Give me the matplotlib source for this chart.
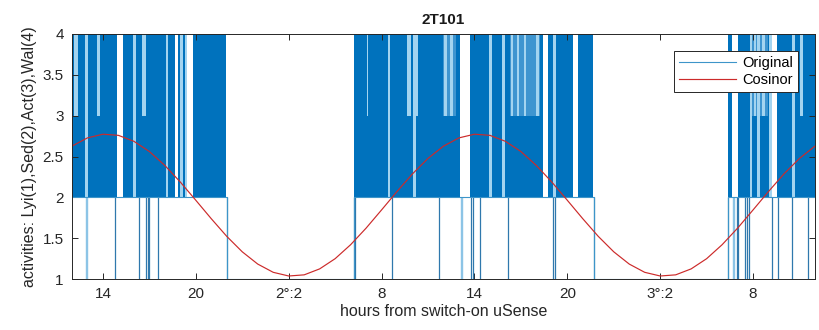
# ============================================================================
# LIBRARY IMPORTS
# ============================================================================
import matplotlib.pyplot as plt

plt.rcParams['font.family'] = ['Liberation Sans', 'DejaVu Sans']

# ============================================================================
# DATA (hours from 12:00 on the first day)
# ============================================================================
# cosinor fit, read every hour
cos_hours = list(range(49))
cosinor = [2.627, 2.728, 2.773, 2.759, 2.686, 2.561, 2.390, 2.187, 1.964, 1.738,
           1.522, 1.333, 1.183, 1.082, 1.037, 1.051, 1.124, 1.249, 1.420, 1.623,
           1.846, 2.072, 2.288, 2.477,
           2.627, 2.728, 2.773, 2.759, 2.686, 2.561, 2.390, 2.187, 1.964, 1.738,
           1.522, 1.333, 1.183, 1.082, 1.037, 1.051, 1.124, 1.249, 1.420, 1.623,
           1.846, 2.072, 2.288, 2.477, 2.627]

# base level of the original trace (2 while awake, 1 while lying)
orig_t = [0, 10.01, 10.01, 18.22, 18.22, 33.72, 33.72, 42.38, 42.38, 48]
orig_v = [2, 2, 1, 1, 2, 2, 1, 1, 2, 2]

# dense switching between 2 and 4 (appears solid)
dense_start = [0.00, 1.03, 3.29, 4.13, 6.20, 6.85, 7.17, 7.82,
               18.22, 20.54, 22.22, 25.71, 27.13, 27.97, 30.75, 31.27, 32.69,
               42.38, 43.02, 43.93, 44.44, 45.54, 46.71]
dense_end = [0.84, 2.91, 3.94, 6.07, 6.65, 7.00, 7.30, 9.95,
             20.41, 22.03, 25.06, 26.94, 27.78, 30.43, 31.07, 32.36, 33.66,
             42.64, 43.80, 44.25, 45.03, 46.51, 48.00]

# light gaps inside the awake blocks (full height 2 to 4)
gap_start = [0.84, 3.94, 6.07, 7.00, 7.30,
             20.41, 22.03, 26.94, 27.78, 31.07,
             43.80, 44.25, 45.03, 46.51]
gap_end = [1.03, 4.13, 6.20, 7.17, 7.43,
           20.54, 22.22, 27.13, 27.97, 31.27,
           43.93, 44.44, 45.22, 46.71]

# thin light strips only between 3 and 4
top_start = [0.13, 1.62, 4.52,
             19.06, 21.64, 22.16, 24.05, 24.45, 28.35, 28.75, 29.20, 29.95,
             44.05, 44.60, 47.03]
top_end = [0.39, 1.81, 4.78,
           19.12, 21.90, 22.35, 24.20, 24.62, 28.50, 28.90, 29.35, 30.15,
           44.18, 44.75, 47.20]

# sparse region between 3 and 4 (mixed blue and light lines)
mix_start = [23.97, 28.29, 43.95]
mix_end = [24.81, 30.23, 44.95]

# drops down to lying (1)
spike_x = [2.78, 4.33, 4.75, 4.88, 5.00, 5.56, 10.01,
           18.22, 18.30, 20.67, 23.71, 25.80, 25.90, 26.36, 28.17, 31.10, 31.22, 33.72,
           42.38, 42.95, 43.02, 43.50, 43.62, 43.75, 45.22, 45.61, 46.51, 47.55]
spike_light_x = [0.88, 0.98, 25.10, 25.18, 42.70, 42.80]

tick_pos = [2, 8, 14, 20, 26, 32, 38, 44]
tick_lab = ['14', '20', '2°:2', '8', '14', '20', '3°:2', '8']
ytick_pos = [1, 1.5, 2, 2.5, 3, 3.5, 4]
ytick_lab = ['1', '1.5', '2', '2.5', '3', '3.5', '4']

# ============================================================================
# PLOT
# ============================================================================
fig = plt.figure(figsize=(8.19, 3.30), dpi=100)
ax = fig.add_axes([0.0879, 0.1545, 0.9072, 0.7425])

blue = '#0072BD'
light = '#a3d4f0'
mix = '#3e95d0'

ax.broken_barh([(s, e - s) for s, e in zip(dense_start, dense_end)], (2, 2),
               facecolors=blue, edgecolor='none')
ax.broken_barh([(s, e - s) for s, e in zip(mix_start, mix_end)], (3, 1),
               facecolors=mix, edgecolor='none')
ax.broken_barh([(s, e - s) for s, e in zip(gap_start, gap_end)], (2, 2),
               facecolors=light, edgecolor='none')
ax.broken_barh([(s, e - s) for s, e in zip(top_start, top_end)], (3, 1),
               facecolors=light, edgecolor='none')

ax.vlines(spike_x, 1, 2, color='#2f78ad', linewidth=0.9)
ax.vlines(spike_light_x, 1, 2, color='#8cc4e6', linewidth=1.0)

line_orig, = ax.plot(orig_t, orig_v, color='#3d95c9', linewidth=0.8, label='Original')
line_cos, = ax.plot(cos_hours, cosinor, color='#cc2a2a', linewidth=0.85, label='Cosinor')

# ============================================================================
# STYLING
# ============================================================================
ax.set_xlim(0, 48)
ax.set_ylim(1, 4)
ax.set_xticks(tick_pos)
ax.set_xticklabels(tick_lab)
ax.set_yticks(ytick_pos)
ax.set_yticklabels(ytick_lab)
ax.tick_params(direction='in', top=True, right=True, length=4, width=0.7,
               labelsize=11, colors='#262626', pad=6)
for sp in ax.spines.values():
    sp.set_color('#262626')
    sp.set_linewidth(0.7)

ax.set_title('2T101', fontsize=11, fontweight='bold', color='#1a1a1a', pad=7)
ax.set_xlabel('hours from switch-on uSense', fontsize=11.5, color='#262626', labelpad=2)
ax.set_ylabel('activities: Lyi(1),Sed(2),Act(3),Wal(4)', fontsize=11.5,
              color='#262626', labelpad=4)

leg = ax.legend(handles=[line_orig, line_cos], loc='upper right',
                bbox_to_anchor=(0.977, 0.93), fontsize=10.5, handlelength=3.9,
                fancybox=False, framealpha=1, edgecolor='#262626',
                borderpad=0.35, labelspacing=0.2, handletextpad=0.4,
                borderaxespad=0)
leg.get_frame().set_linewidth(0.7)

# ============================================================================
# SAVE
# ============================================================================
fig.savefig('out.png', dpi=100)
